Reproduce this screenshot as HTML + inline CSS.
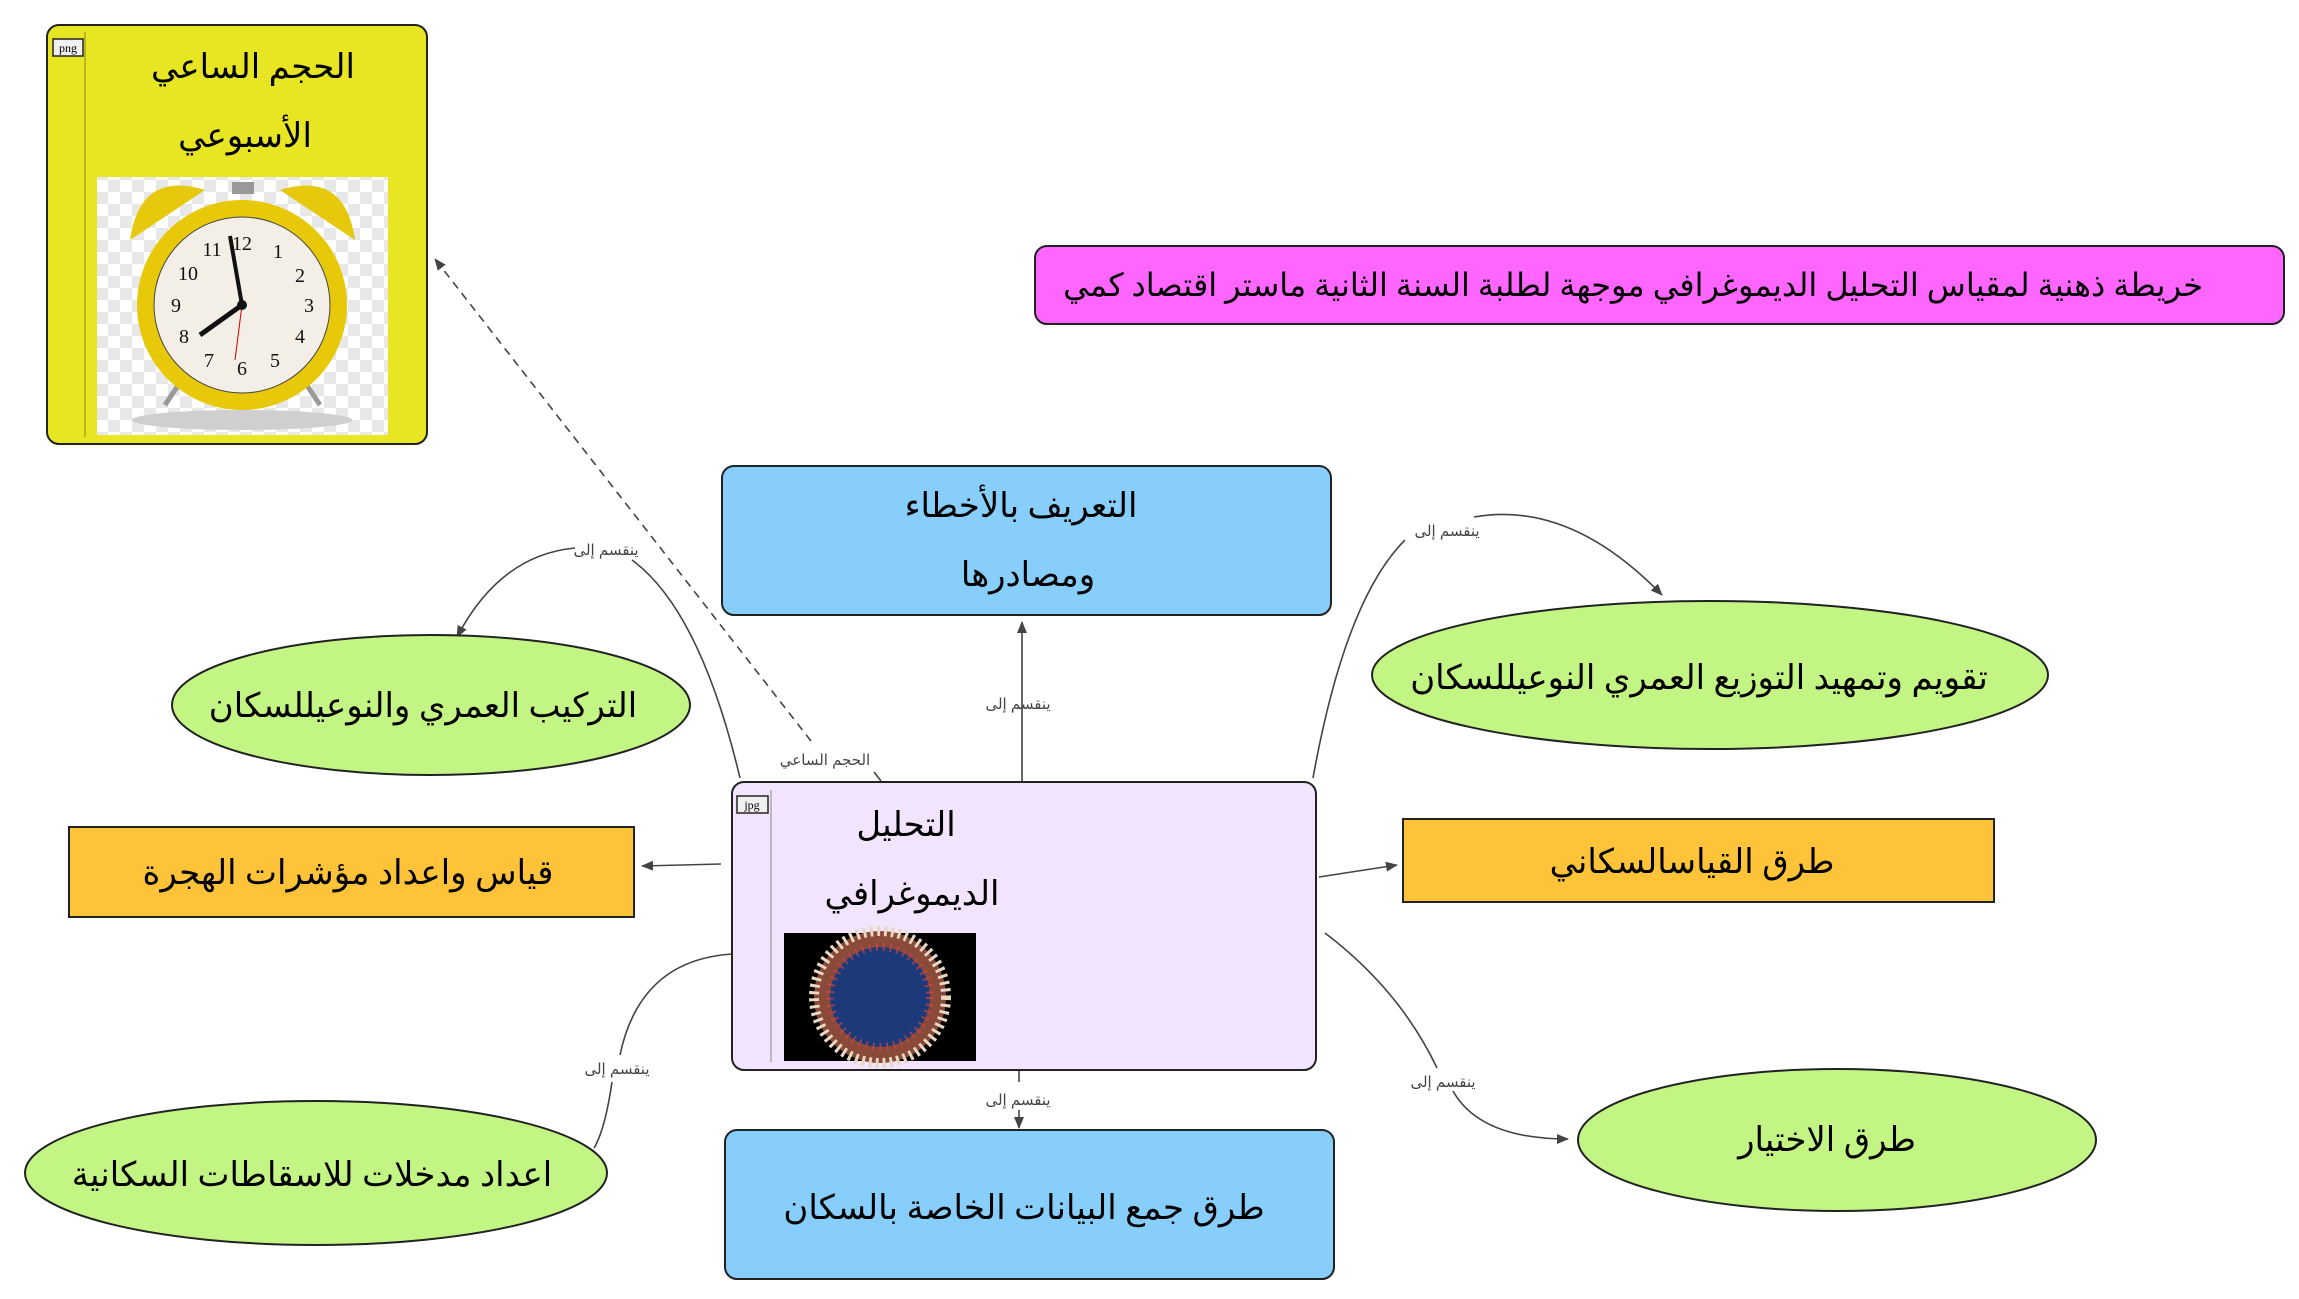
<!DOCTYPE html>
<html><head><meta charset="utf-8"><style>
html,body{margin:0;padding:0;background:#fff;}
svg{display:block;}
text{font-family:"Liberation Serif","DejaVu Sans",sans-serif;}
.t{font-size:34px;fill:#000;text-anchor:middle;}
.b{font-weight:bold;}
.l{font-size:15px;fill:#444;text-anchor:middle;font-family:"Liberation Sans","DejaVu Sans",sans-serif;}
.c{fill:none;stroke:#444;stroke-width:1.6;}
</style></head><body>
<svg width="2299" height="1299" viewBox="0 0 2299 1299" xmlns="http://www.w3.org/2000/svg">
<defs>
<marker id="a" markerWidth="12" markerHeight="10" refX="11" refY="5" orient="auto" markerUnits="userSpaceOnUse">
<path d="M0,0 L12,5 L0,10 Z" fill="#444"/></marker>
<pattern id="chk" width="24" height="24" patternUnits="userSpaceOnUse">
<rect width="24" height="24" fill="#fff"/><rect width="12" height="12" fill="#e8e8e8"/><rect x="12" y="12" width="12" height="12" fill="#e8e8e8"/></pattern>
</defs>

<path class="c" d="M811,741 L435,259" stroke-dasharray="8,6" marker-end="url(#a)"/>
<path class="c" d="M874,772 L881,781"/>
<text class="l" x="825" y="765">الحجم الساعي</text>

<path class="c" d="M1022,782 L1022,622" marker-end="url(#a)"/>
<text class="l" x="1018" y="709">ينقسم إلى</text>

<path class="c" d="M740,778 Q700,610 632,560"/>
<path class="c" d="M575,548 Q500,555 457,637" marker-end="url(#a)"/>
<text class="l" x="606" y="555">ينقسم إلى</text>

<path class="c" d="M1313,778 Q1345,600 1405,540"/>
<path class="c" d="M1474,517 Q1570,500 1662,595" marker-end="url(#a)"/>
<text class="l" x="1447" y="536">ينقسم إلى</text>

<path class="c" d="M1319,877 L1397,865" marker-end="url(#a)"/>
<path class="c" d="M721,864 L642,866" marker-end="url(#a)"/>

<path class="c" d="M732,954 Q640,960 620,1055"/>
<path class="c" d="M612,1082 Q605,1130 594,1148"/>
<text class="l" x="617" y="1074">ينقسم إلى</text>

<path class="c" d="M1019,1070 L1019,1082"/>
<path class="c" d="M1019,1110 L1019,1128" marker-end="url(#a)"/>
<text class="l" x="1018" y="1105">ينقسم إلى</text>

<path class="c" d="M1325,933 Q1400,990 1437,1068"/>
<path class="c" d="M1453,1091 Q1480,1139 1568,1139" marker-end="url(#a)"/>
<text class="l" x="1443" y="1087">ينقسم إلى</text>

<rect x="47" y="25" width="380" height="419" rx="12" fill="#e8e622" stroke="#222" stroke-width="2"/>
<line x1="85" y1="32" x2="85" y2="437" stroke="#a9a71e" stroke-width="1.5"/>
<rect x="53" y="39" width="30" height="17" fill="#f0f0f0" stroke="#222" stroke-width="1.5"/>
<text x="68" y="52" font-size="12" text-anchor="middle" font-family="Liberation Sans">png</text>
<text class="t" x="253" y="78">الحجم الساعي</text>
<text class="t" x="245" y="147">الأسبوعي</text>
<rect x="97" y="177" width="291" height="258" fill="url(#chk)"/>
<ellipse cx="242" cy="420" rx="110" ry="10" fill="#cfcfcf"/>
<line x1="185" y1="375" x2="165" y2="405" stroke="#999" stroke-width="5"/>
<line x1="300" y1="375" x2="320" y2="405" stroke="#999" stroke-width="5"/>
<path d="M130,240 Q140,170 205,190 Z" fill="#e6c80c"/>
<path d="M355,240 Q345,170 280,190 Z" fill="#e6c80c"/>
<rect x="232" y="182" width="22" height="12" fill="#999"/>
<circle cx="242" cy="305" r="105" fill="#e8c90a"/>
<circle cx="242" cy="305" r="88" fill="#f3efe6" stroke="#444" stroke-width="1"/>
<g font-size="20" font-family="Liberation Serif" text-anchor="middle" fill="#111">
<text x="242" y="250">12</text><text x="212" y="256">11</text><text x="278" y="258">1</text>
<text x="188" y="280">10</text><text x="300" y="282">2</text>
<text x="176" y="312">9</text><text x="309" y="312">3</text>
<text x="184" y="343">8</text><text x="300" y="343">4</text>
<text x="209" y="367">7</text><text x="242" y="375">6</text><text x="275" y="367">5</text>
</g>
<line x1="242" y1="305" x2="230" y2="236" stroke="#111" stroke-width="4"/>
<line x1="242" y1="305" x2="200" y2="335" stroke="#111" stroke-width="5"/>
<line x1="242" y1="305" x2="235" y2="360" stroke="#c00" stroke-width="1"/>
<circle cx="242" cy="305" r="5" fill="#111"/>

<rect x="1035" y="246" width="1249" height="78" rx="12" fill="#ff66ff" stroke="#222" stroke-width="2"/>
<text x="2203" y="296" style="text-anchor:end;font-size:32px">خريطة ذهنية لمقياس التحليل الديموغرافي موجهة لطلبة السنة الثانية ماستر  اقتصاد كمي</text>

<rect x="722" y="466" width="609" height="149" rx="12" fill="#87cefa" stroke="#222" stroke-width="2"/>
<text class="t" x="1021" y="517">التعريف بالأخطاء</text>
<text class="t" x="1028" y="586">ومصادرها</text>

<ellipse cx="431" cy="705" rx="259" ry="70" fill="#c3f584" stroke="#222" stroke-width="2"/>
<text class="t" x="423" y="717">التركيب العمري والنوعيللسكان</text>

<ellipse cx="1710" cy="675" rx="338" ry="74" fill="#c3f584" stroke="#222" stroke-width="2"/>
<text class="t" x="1699" y="689">تقويم وتمهيد التوزيع العمري النوعيللسكان</text>

<rect x="69" y="827" width="565" height="90" fill="#ffc33a" stroke="#222" stroke-width="2"/>
<text class="t" x="348" y="884">قياس واعداد مؤشرات الهجرة</text>

<rect x="732" y="782" width="584" height="288" rx="12" fill="#f2e4fd" stroke="#222" stroke-width="2"/>
<line x1="771" y1="790" x2="771" y2="1062" stroke="#aaa" stroke-width="1.5"/>
<rect x="737" y="796" width="31" height="17" fill="#f0f0f0" stroke="#222" stroke-width="1.5"/>
<text x="752" y="809" font-size="12" text-anchor="middle" font-family="Liberation Sans">jpg</text>
<text class="t" x="906" y="836">التحليل</text>
<text class="t" x="912" y="905">الديموغرافي</text>
<rect x="784" y="933" width="192" height="128" fill="#000"/>
<circle cx="880" cy="997" r="66" fill="#8a4a3a"/>
<circle cx="880" cy="997" r="66" fill="none" stroke="#e8d8c0" stroke-width="10" stroke-dasharray="3,4"/>
<circle cx="880" cy="997" r="50" fill="#1c3a7a"/>
<circle cx="880" cy="997" r="50" fill="none" stroke="#c44" stroke-width="8" stroke-dasharray="2,5" opacity=".7"/>

<rect x="1403" y="819" width="591" height="83" fill="#ffc33a" stroke="#222" stroke-width="2"/>
<text class="t" x="1692" y="873">طرق القياسالسكاني</text>

<ellipse cx="316" cy="1173" rx="291" ry="72" fill="#c3f584" stroke="#222" stroke-width="2"/>
<text class="t" x="312" y="1186">اعداد  مدخلات  للاسقاطات السكانية</text>

<rect x="725" y="1130" width="609" height="149" rx="12" fill="#87cefa" stroke="#222" stroke-width="2"/>
<text class="t" x="1024" y="1219">طرق جمع البيانات الخاصة بالسكان</text>

<ellipse cx="1837" cy="1140" rx="259" ry="71" fill="#c3f584" stroke="#222" stroke-width="2"/>
<text class="t" x="1827" y="1151">طرق الاختيار</text>
</svg>
</body></html>
